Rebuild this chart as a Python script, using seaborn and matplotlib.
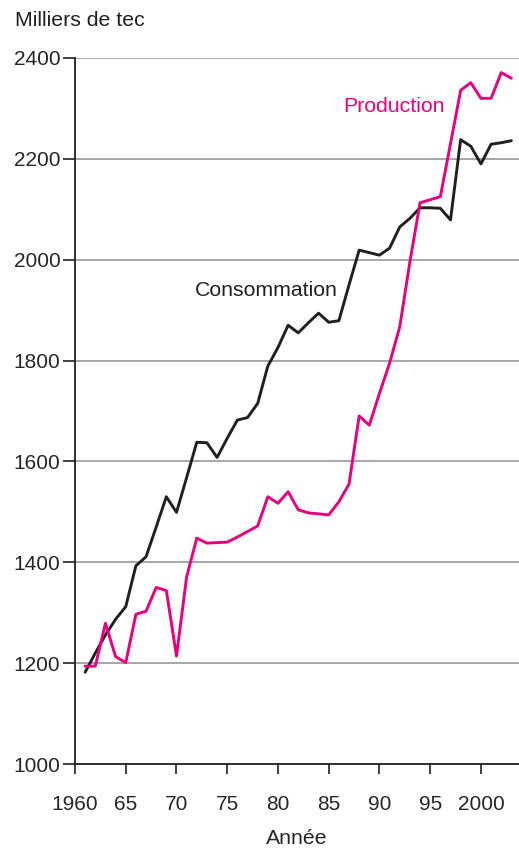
import numpy as np
import pandas as pd
import matplotlib
matplotlib.use("Agg")
import matplotlib.pyplot as plt
import seaborn as sns

# Houillères - consommation et production (milliers de tec)
annees = list(range(1961, 2004))

consommation = [1182, 1220, 1256, 1287, 1312, 1393, 1411, 1470, 1530, 1499,
                1568, 1638, 1637, 1608, 1646, 1682, 1687, 1715, 1789, 1826,
                1870, 1855, 1875, 1894, 1876, 1879, 1950, 2019, 2014, 2009,
                2023, 2065, 2082, 2103, 2103, 2102, 2079, 2238, 2225, 2190,
                2229, 2232, 2236]

production = [1194, 1194, 1279, 1213, 1201, 1297, 1303, 1350, 1344, 1214,
              1371, 1448, 1438, 1439, 1440, 1450, 1461, 1472, 1530, 1517,
              1540, 1504, 1498, 1496, 1494, 1520, 1555, 1690, 1672, 1735,
              1795, 1867, 1996, 2113, 2119, 2125, 2230, 2336, 2351, 2320,
              2320, 2371, 2360]

yticks = [1000, 1200, 1400, 1600, 1800, 2000, 2200, 2400]
xticks = [1960, 1965, 1970, 1975, 1980, 1985, 1990, 1995, 2000]
xlabels = ["1960", "65", "70", "75", "80", "85", "90", "95", "2000"]

couleurs = {"Consommation": "#231f20", "Production": "#e6007e"}

df = pd.DataFrame({"Annee": annees * 2,
                   "Valeur": consommation + production,
                   "Serie": ["Consommation"] * len(annees) + ["Production"] * len(annees)})

sns.set_style("white")
plt.rcParams["font.family"] = ["Liberation Sans", "DejaVu Sans"]

fig = plt.figure(figsize=(5.19, 8.49), dpi=100)
ax = fig.add_axes([75 / 519, 1 - 764 / 849, 444 / 519, 706 / 849])

for y in yticks[1:]:
    ax.axhline(y, color="#a6a6a6", lw=1.4, zorder=0)

sns.lineplot(data=df, x="Annee", y="Valeur", hue="Serie", palette=couleurs,
             linewidth=2.1, legend=False, ax=ax, zorder=3)

ax.set_xlim(1960, 2003.75)
ax.set_ylim(1000, 2400)
ax.set_xticks(xticks)
ax.set_xticklabels(xlabels)
ax.set_yticks(yticks)
ax.tick_params(axis="y", direction="out", length=9, width=1.2, pad=1.5,
               labelsize=15, left=True, color="#231f20")
ax.tick_params(axis="x", direction="out", length=7, width=1.2, pad=15,
               labelsize=15, bottom=True, color="#231f20")

for side in ["top", "right"]:
    ax.spines[side].set_visible(False)
for side in ["left", "bottom"]:
    ax.spines[side].set_color("#231f20")
    ax.spines[side].set_linewidth(1.3)

ax.set_xlabel("Année", fontsize=15.3, labelpad=11)
ax.set_ylabel("")

fig.text(15 / 519, 1 - 21 / 849, "Milliers de tec", fontsize=15.3,
         ha="left", va="center", color="#231f20")
ax.text(1971.8, 1938, "Consommation", fontsize=15.3, color="#231f20", va="center")
ax.text(1986.4, 2304, "Production", fontsize=15.3, color="#e6007e", va="center")

fig.savefig("out.png", dpi=100)
